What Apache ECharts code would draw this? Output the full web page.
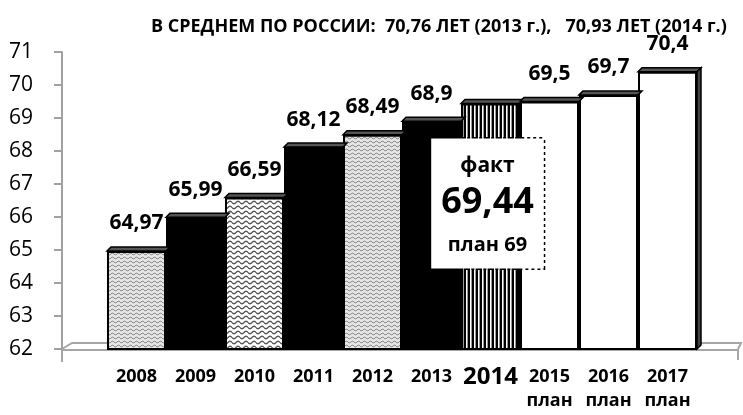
<!DOCTYPE html>
<html>
<head>
<meta charset="utf-8">
<script src="https://cdn.jsdelivr.net/npm/echarts@6/dist/echarts.min.js"></script>
<style>
  html, body { margin: 0; padding: 0; background: #fff; }
  #chart { width: 743px; height: 415px; }
</style>
</head>
<body>
<div id="chart"></div>
<script>
// данные
const years = ['2008', '2009', '2010', '2011', '2012', '2013', '2014', '2015', '2016', '2017'];
const lifeExpectancy = [64.97, 65.99, 66.59, 68.12, 68.49, 68.9, 69.44, 69.5, 69.7, 70.4];
const yearNotes = ['', '', '', '', '', '', '', 'план', 'план', 'план'];
const factYear = '2014';
const plan2014 = 69;
const yTicks = { min: 62, max: 71, step: 1 };
const titleText = 'В СРЕДНЕМ ПО РОССИИ:  70,76 ЛЕТ (2013 г.),   70,93 ЛЕТ (2014 г.)';

const FONT = '"Open Sans", "Noto Sans", sans-serif';
const fmt = v => String(v).replace('.', ',');

// заливки-узоры
function wave(bg, fg, w, h, amp, lw) {
  const c = document.createElement('canvas');
  c.width = w; c.height = h;
  const g = c.getContext('2d');
  g.fillStyle = bg; g.fillRect(0, 0, w, h);
  g.strokeStyle = fg; g.lineWidth = lw;
  g.beginPath();
  for (let x = 0; x <= w; x++) {
    const y = h / 2 + amp * Math.sin(x / w * 2 * Math.PI);
    if (x === 0) g.moveTo(x, y); else g.lineTo(x, y);
  }
  g.stroke();
  return { image: c, repeat: 'repeat' };
}
function stripes() {
  const c = document.createElement('canvas');
  c.width = 4; c.height = 2;
  const g = c.getContext('2d');
  g.fillStyle = '#fff'; g.fillRect(0, 0, 4, 2);
  g.fillStyle = '#000'; g.fillRect(0, 0, 2, 2);
  g.fillStyle = '#999'; g.fillRect(3, 0, 1, 2);
  return { image: c, repeat: 'repeat' };
}
const waveLight = wave('#e6e6e6', '#8a8a8a', 6, 4, 1, 1);
const waveDark = wave('#ffffff', '#555', 8, 5, 1.3, 1.4);
const fills = [waveLight, '#000', waveDark, '#000', waveLight, '#000', stripes(), '#fff', '#fff', '#fff'];

const barData = lifeExpectancy.map((v, i) => {
  const item = { value: v, itemStyle: { color: fills[i] } };
  if (years[i] === factYear) {
    item.label = {
      position: 'insideTop',
      distance: 35,
      offset: [-3, 0],
      formatter: '{a|факт}\n{b|' + fmt(v) + '}\n{c|план ' + plan2014 + '}',
      backgroundColor: '#fff',
      borderColor: '#000',
      borderWidth: 1.5,
      borderType: 'dotted',
      padding: [12, 10, 0, 10],
      rich: {
        a: { fontFamily: FONT, fontWeight: 'bold', fontSize: 21, lineHeight: 32, color: '#000' },
        b: { fontFamily: FONT, fontWeight: 'bold', fontSize: 36, lineHeight: 40, color: '#000' },
        c: { fontFamily: FONT, fontWeight: 'bold', fontSize: 20, lineHeight: 46, color: '#000' }
      }
    };
  }
  return item;
});

const chart = echarts.init(document.getElementById('chart'));
chart.setOption({
  animation: false,
  title: {
    text: titleText,
    left: 146,
    top: 13,
    textStyle: { fontFamily: FONT, fontWeight: 'bold', fontSize: 18, color: '#000' }
  },
  grid: { left: 107, right: 46, top: 52, bottom: 66 },
  xAxis: {
    type: 'category',
    data: years,
    axisLine: { show: false },
    axisTick: { show: false },
    axisLabel: {
      margin: 16,
      interval: 0,
      formatter: (v, i) => {
        if (v === factYear) return '{big|' + v + '}';
        return yearNotes[i] ? '{y|' + v + '}\n{p|' + yearNotes[i] + '}' : '{y|' + v + '}';
      },
      rich: {
        y: { fontFamily: FONT, fontWeight: 'bold', fontSize: 18, lineHeight: 24, color: '#000' },
        big: { fontFamily: FONT, fontWeight: 'bold', fontSize: 24, lineHeight: 24, color: '#000' },
        p: { fontFamily: FONT, fontWeight: 'bold', fontSize: 18, lineHeight: 24, color: '#000' }
      }
    }
  },
  yAxis: {
    type: 'value',
    min: yTicks.min,
    max: yTicks.max,
    interval: yTicks.step,
    offset: 45,
    splitLine: { show: false },
    axisLine: { show: true, lineStyle: { color: '#a0a0a0', width: 2 } },
    axisTick: { show: true, length: 8, lineStyle: { color: '#a0a0a0', width: 2 } },
    axisLabel: { margin: 29, fontFamily: FONT, fontSize: 21, color: '#000' }
  },
  series: [
    {
      type: 'bar',
      data: barData,
      barCategoryGap: '0%',
      z: 2,
      itemStyle: { borderColor: '#000', borderWidth: 2 },
      label: {
        show: true,
        position: 'top',
        distance: 17,
        formatter: p => fmt(p.value),
        fontFamily: FONT,
        fontWeight: 'bold',
        fontSize: 21,
        color: '#000'
      }
    },
    {
      // верхние грани (псевдо-3D)
      type: 'custom',
      z: 3,
      silent: true,
      data: lifeExpectancy.map((v, i) => [i, v]),
      encode: { x: 0, y: 1 },
      renderItem: (params, api) => {
        const top = api.coord([api.value(0), api.value(1)]);
        const base = api.coord([api.value(0), yTicks.min]);
        const w = api.size([1, 0])[0];
        const x0 = top[0] - w / 2, x1 = top[0] + w / 2, y = top[1], d = 4;
        const children = [{
          type: 'polygon',
          shape: { points: [[x0, y], [x0 + d, y - d], [x1 + d, y - d], [x1, y]] },
          style: { fill: '#555', stroke: '#000', lineWidth: 1.5 }
        }];
        if (params.dataIndex === lifeExpectancy.length - 1) {
          children.push({
            type: 'polygon',
            shape: { points: [[x1, y], [x1 + d, y - d], [x1 + d, base[1] - d], [x1, base[1]]] },
            style: { fill: '#444', stroke: '#000', lineWidth: 1.5 }
          });
        }
        return { type: 'group', children };
      }
    }
  ]
});

// "пол" диаграммы
const y0 = chart.convertToPixel({ yAxisIndex: 0 }, yTicks.min);
const ax = 107 - 45;
const rx = 738;
const grey = { stroke: '#a6a6a6', lineWidth: 2, fill: null };
chart.setOption({
  graphic: [
    { type: 'polyline', z: 0, shape: { points: [[ax, y0], [ax + 10, y0 - 6], [rx + 3, y0 - 6], [rx, y0]] }, style: grey },
    { type: 'polyline', z: 0, shape: { points: [[ax, y0 + 1], [rx, y0 + 1], [rx, y0 + 11]] }, style: grey },
    { type: 'polyline', z: 0, shape: { points: [[ax, y0], [ax, y0 + 13]] }, style: grey }
  ]
});
</script>
</body>
</html>
